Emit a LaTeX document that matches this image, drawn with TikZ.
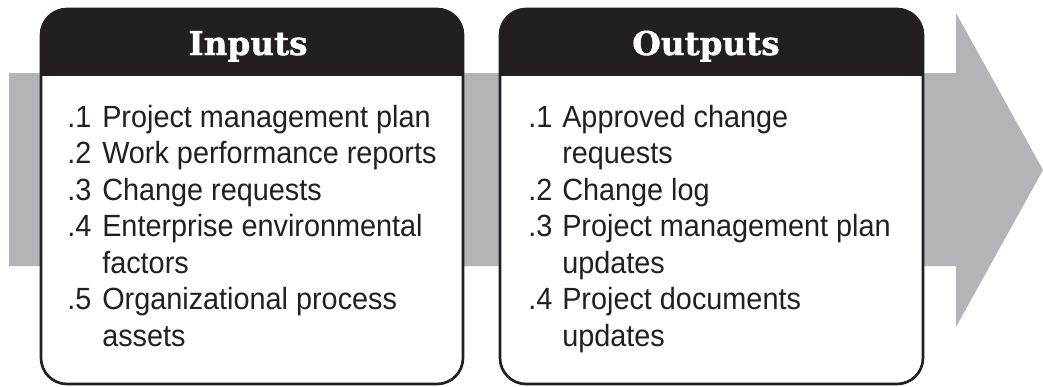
\documentclass[tikz,border=0pt]{standalone}
\usepackage{fontspec}
\setmainfont{Liberation Sans}[FakeStretch=0.94]
\newfontfamily\headfont{DejaVu Serif}[BoldFeatures={FakeBold=1.2}]
\definecolor{bandgray}{RGB}{179,180,183}
\definecolor{inkblack}{RGB}{35,31,32}
\tikzset{
  itemtext/.style={anchor=base west,inner sep=0pt,text=inkblack,
    font=\fontsize{23}{27}\selectfont},
  headtext/.style={anchor=base,inner sep=0pt,text=white,
    font=\headfont\bfseries\fontsize{24.5}{29}\selectfont},
  boxline/.style={draw=inkblack,line width=2pt,rounded corners=19.5pt}
}
\begin{document}
\begin{tikzpicture}[x=0.75pt,y=-0.75pt]
  \useasboundingbox (0,0) rectangle (1043,386);
  % gray arrow behind the two boxes
  \fill[bandgray] (9,73) -- (956,73) -- (956,13) -- (1043,170)
    -- (956,327) -- (956,266) -- (9,266) -- cycle;
  % boxes with black headers
  \foreach \l/\r in {41/463, 500/923} {
    \fill[white,rounded corners=19.5pt] (\l,9) rectangle (\r,384);
    \begin{scope}
      \clip (\l,9) rectangle (\r,75);
      \fill[inkblack,rounded corners=19.5pt] (\l,9) rectangle (\r,384);
    \end{scope}
    \draw[boxline] (\l,9) rectangle (\r,384);
  }
  \node[headtext] (inhead) at (248,55) {Inputs};
  \node[headtext] (outhead) at (706,55) {Outputs};
  % input items
  \foreach \n/\t [count=\i] in {.1/Project management plan,
      .2/Work performance reports, .3/Change requests,
      .4/Enterprise environmental, /factors,
      .5/Organizational process, /assets} {
    \node[itemtext] (innum\i) at (67,{127+(\i-1)*36.5}) {\n};
    \node[itemtext] (intxt\i) at (102,{127+(\i-1)*36.5}) {\t};
  }
  % output items
  \foreach \n/\t [count=\i] in {.1/Approved change, /requests,
      .2/Change log, .3/Project management plan, /updates,
      .4/Project documents, /updates} {
    \node[itemtext] (outnum\i) at (528,{127+(\i-1)*36.5}) {\n};
    \node[itemtext] (outtxt\i) at (562,{127+(\i-1)*36.5}) {\t};
  }
\end{tikzpicture}
\end{document}
